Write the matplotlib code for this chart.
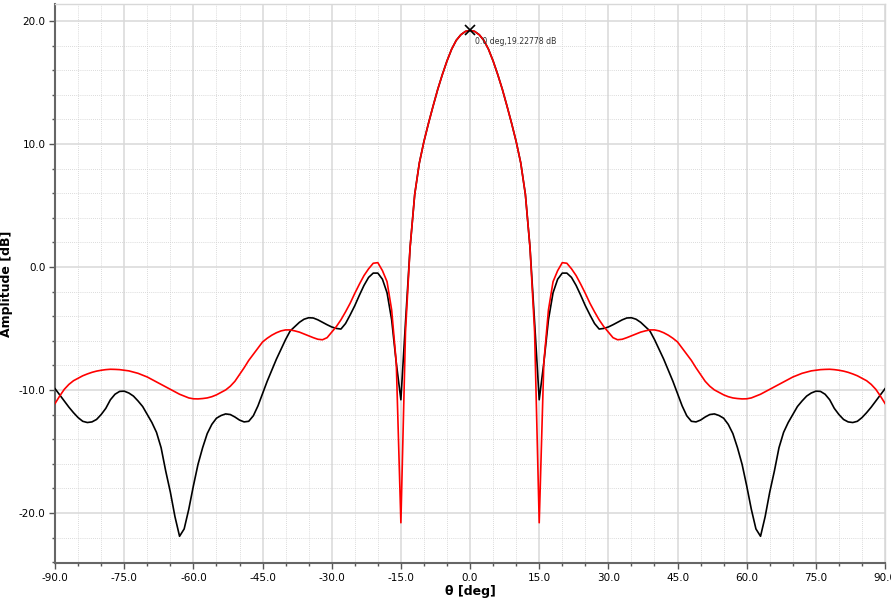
import numpy as np
import matplotlib.pyplot as plt
from matplotlib.ticker import MultipleLocator, FormatStrFormatter

# sample angles, 1 degree steps
theta = np.arange(-90, 91, 1)

# black trace, dB (theta -90 .. 90)
amp_black = [
    -9.9, -10.4, -10.9, -11.4, -11.85, -12.25, -12.55, -12.65, -12.6, -12.4,
    -12.0, -11.5, -10.8, -10.35, -10.12, -10.1, -10.25, -10.5, -10.9, -11.35,
    -12.0, -12.65, -13.45, -14.7, -16.6, -18.3, -20.3, -21.9, -21.3, -19.7,
    -17.8, -16.05, -14.7, -13.55, -12.8, -12.3, -12.08, -11.95, -12.0, -12.2,
    -12.45, -12.6, -12.55, -12.1, -11.3, -10.3, -9.3, -8.4, -7.5, -6.7,
    -5.9, -5.2, -4.85, -4.5, -4.25, -4.13, -4.15, -4.3, -4.5, -4.7,
    -4.88, -5.0, -5.05, -4.6, -3.9, -3.15, -2.3, -1.5, -0.85, -0.5,
    -0.5, -1.0, -2.1, -4.3, -7.8, -10.8, -4.5, 1.6, 5.9, 8.45,
    10.2, 11.7, 13.1, 14.45, 15.65, 16.75, 17.7, 18.42, 18.88, 19.15,
    19.23,
    19.15, 18.88, 18.42, 17.7, 16.75, 15.65, 14.45, 13.1, 11.7, 10.2,
    8.45, 5.9, 1.6, -4.5, -10.8, -7.8, -4.3, -2.1, -1.0, -0.5,
    -0.5, -0.85, -1.5, -2.3, -3.15, -3.9, -4.6, -5.05, -5.0, -4.88,
    -4.7, -4.5, -4.3, -4.15, -4.13, -4.25, -4.5, -4.85, -5.2, -5.9,
    -6.7, -7.5, -8.4, -9.3, -10.3, -11.3, -12.1, -12.55, -12.6, -12.45,
    -12.2, -12.0, -11.95, -12.08, -12.3, -12.8, -13.55, -14.7, -16.05, -17.8,
    -19.7, -21.3, -21.9, -20.3, -18.3, -16.6, -14.7, -13.45, -12.65, -12.0,
    -11.35, -10.9, -10.5, -10.25, -10.1, -10.12, -10.35, -10.8, -11.5, -12.0,
    -12.4, -12.6, -12.65, -12.55, -12.25, -11.85, -11.4, -10.9, -10.4, -9.9,
]

# red trace, dB (theta -90 .. 90)
amp_red = [
    -11.1, -10.5, -9.95, -9.55, -9.25, -9.05, -8.85, -8.7, -8.57, -8.47,
    -8.4, -8.35, -8.32, -8.33, -8.35, -8.4, -8.45, -8.55, -8.65, -8.8,
    -8.95, -9.15, -9.35, -9.55, -9.75, -9.95, -10.15, -10.35, -10.5, -10.65,
    -10.72, -10.73, -10.7, -10.65, -10.55, -10.4, -10.2, -10.0, -9.7, -9.3,
    -8.75, -8.2, -7.6, -7.1, -6.6, -6.1, -5.8, -5.55, -5.35, -5.2,
    -5.12, -5.12, -5.2, -5.3, -5.45, -5.6, -5.75, -5.88, -5.92, -5.75,
    -5.3, -4.85, -4.3, -3.65, -2.95, -2.15, -1.4, -0.7, -0.15, 0.3,
    0.35, -0.3, -1.2, -3.5, -7.8, -20.8, -5.3, 1.6, 5.9, 8.45,
    10.2, 11.7, 13.1, 14.45, 15.65, 16.75, 17.7, 18.42, 18.88, 19.15,
    19.23,
    19.15, 18.88, 18.42, 17.7, 16.75, 15.65, 14.45, 13.1, 11.7, 10.2,
    8.45, 5.9, 1.6, -5.3, -20.8, -7.8, -3.5, -1.2, -0.3, 0.35,
    0.3, -0.15, -0.7, -1.4, -2.15, -2.95, -3.65, -4.3, -4.85, -5.3,
    -5.75, -5.92, -5.88, -5.75, -5.6, -5.45, -5.3, -5.2, -5.12, -5.12,
    -5.2, -5.35, -5.55, -5.8, -6.1, -6.6, -7.1, -7.6, -8.2, -8.75,
    -9.3, -9.7, -10.0, -10.2, -10.4, -10.55, -10.65, -10.7, -10.73, -10.72,
    -10.65, -10.5, -10.35, -10.15, -9.95, -9.75, -9.55, -9.35, -9.15, -8.95,
    -8.8, -8.65, -8.55, -8.45, -8.4, -8.35, -8.33, -8.32, -8.35, -8.4,
    -8.47, -8.57, -8.7, -8.85, -9.05, -9.25, -9.55, -9.95, -10.5, -11.1,
]

peak_theta = 0.0
peak_amp = 19.22778
peak_label = "0.0 deg,19.22778 dB"

fig = plt.figure(figsize=(8.91, 6.06), dpi=100)
ax = fig.add_axes([0.0618, 0.071, 0.9315, 0.9224])

ax.plot(theta, amp_black, color='black', lw=1.2, zorder=3)
ax.plot(theta, amp_red, color='#ff0000', lw=1.2, zorder=4)

# peak marker with readout
ax.plot(peak_theta, peak_amp, marker='x', color='black', ms=7, mew=1.2,
        zorder=5, clip_on=False)
ax.annotate(peak_label, (peak_theta, peak_amp), xytext=(3.5, -8),
            textcoords='offset points', fontsize=5.6, color='#333333',
            va='center', ha='left', zorder=6)

ax.set_xlim(-90, 90)
ax.set_ylim(-24.07, 21.38)

ax.xaxis.set_major_locator(MultipleLocator(15))
ax.xaxis.set_minor_locator(MultipleLocator(5))
ax.yaxis.set_major_locator(MultipleLocator(10))
ax.yaxis.set_minor_locator(MultipleLocator(2))
ax.xaxis.set_major_formatter(FormatStrFormatter('%.1f'))
ax.yaxis.set_major_formatter(FormatStrFormatter('%.1f'))

ax.grid(which='major', color='#d9d9d9', lw=1.1, ls='-')
ax.grid(which='minor', color='#cfcfcf', lw=0.6, ls=(0, (1, 1.5)))
ax.set_axisbelow(True)

ax.tick_params(which='major', length=4, width=1, color='#555555',
               labelsize=7.5, pad=3)
ax.tick_params(which='minor', length=2.5, width=1, color='#555555')

for side in ['left', 'bottom']:
    ax.spines[side].set_color('#666666')
    ax.spines[side].set_linewidth(1.5)
for side in ['top', 'right']:
    ax.spines[side].set_color('#d8d8d8')
    ax.spines[side].set_linewidth(1.0)

ax.set_xlabel('θ [deg]', fontsize=9, fontweight='bold', labelpad=2)
ax.set_ylabel('Amplitude [dB]', fontsize=9, fontweight='bold', labelpad=4)

fig.savefig('out.png', dpi=100)
